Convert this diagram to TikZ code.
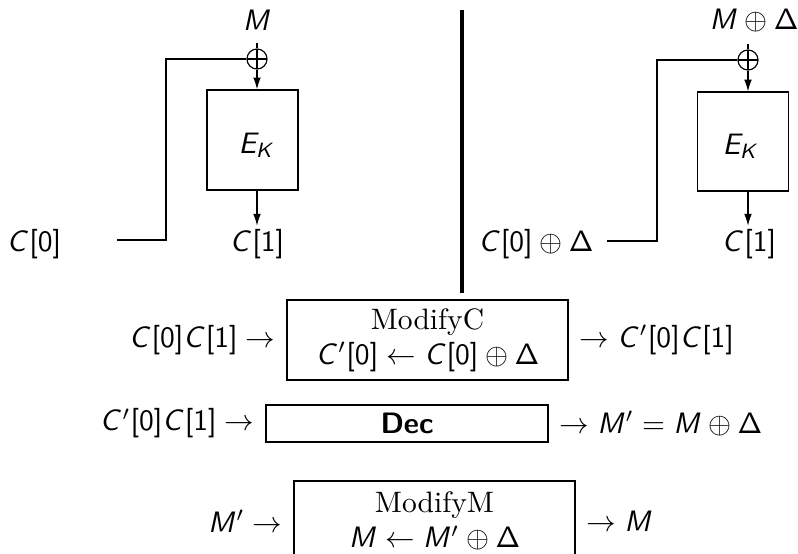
\documentclass[tikz,border=0pt]{standalone}
\usetikzlibrary{arrows.meta}
\DeclareSymbolFont{sfletters}{OT1}{cmss}{m}{sl}
\DeclareSymbolFont{sfop}{OT1}{cmss}{m}{n}
\DeclareMathSymbol{C}{\mathalpha}{sfletters}{`C}
\DeclareMathSymbol{M}{\mathalpha}{sfletters}{`M}
\DeclareMathSymbol{E}{\mathalpha}{sfletters}{`E}
\DeclareMathSymbol{K}{\mathalpha}{sfletters}{`K}
\DeclareMathSymbol{0}{\mathalpha}{sfop}{`0}
\DeclareMathSymbol{1}{\mathalpha}{sfop}{`1}
\DeclareMathSymbol{[}{\mathopen}{sfop}{`[}
\DeclareMathSymbol{]}{\mathclose}{sfop}{`]}
\DeclareMathSymbol{=}{\mathrel}{sfop}{`=}
\DeclareMathSymbol{\sDelta}{\mathalpha}{sfop}{"01}
\begin{document}
\begin{tikzpicture}[x=0.3386pt,y=-0.3386pt,
  thinline/.style={line width=0.4pt},
  arr/.style={thinline,-{Latex[length=4pt,width=2.6pt]}},
  ebox/.style={draw,thinline,minimum width=30.8pt,minimum height=33.9pt,inner sep=0pt},
  xorc/.style={draw,thinline,circle,minimum size=6.8pt,inner sep=0pt,
    path picture={\draw[thinline] (path picture bounding box.north) -- (path picture bounding box.south)
      (path picture bounding box.west) -- (path picture bounding box.east);}},
  topl/.style={inner sep=4pt},
  botl/.style={inner sep=1pt},
  bigbox/.style={draw,line width=0.8pt,minimum width=95.1pt,align=center,inner sep=0pt},
]
\useasboundingbox (0,0) rectangle (798,554);

% divider
\coordinate (d1) at (462,10);
\coordinate (d2) at (462,293);
\draw[line width=1.2pt] (d1) -- (d2);

% left diagram
\node[topl] (M1) at (257,20) {$M$};
\node[xorc] (x1) at (257,59) {};
\node[ebox] (E1) at (252.5,140) {};
\node at (257,145) {$E_K$};
\node[botl] (C1) at (257,244) {$C[1]$};
\node (C0) at (34,244) {$C[0]$};
\coordinate (s1) at (117,240);
\draw[thinline] (M1.south) -- (x1);
\draw[arr] (x1) -- (x1 |- E1.north);
\draw[arr] (x1 |- E1.south) -- (C1);
\draw[thinline] (s1) -- ++(49,0) |- (x1);

% right diagram
\node[topl] (M2) at (754,20) {$M\oplus\sDelta$};
\node[xorc] (x2) at (748,60) {};
\node[ebox,minimum height=33.5pt] (E2) at (743,141.5) {};
\node at (741,146) {$E_K$};
\node[botl] (C2) at (749,244) {$C[1]$};
\node (C0d) at (536,244) {$C[0]\oplus\sDelta$};
\coordinate (s2) at (607,241);
\draw[thinline] (M2.south -| x2) -- (x2);
\draw[arr] (x2) -- (x2 |- E2.north);
\draw[arr] (x2 |- E2.south) -- (x2 |- C2.north);
\draw[thinline] (s2) -- ++(50,0) |- (x2);

% ModifyC
\node[bigbox,minimum height=27.1pt] (mc) at (427.5,340) {ModifyC\\$C'[0]\leftarrow C[0]\oplus\sDelta$};
\node[anchor=east] (mcl) at (mc.west) {$C[0]C[1]\rightarrow$};
\node[anchor=west] (mcr) at (mc.east) {$\rightarrow C'[0]C[1]$};

% Dec
\node[bigbox,minimum width=95.5pt,minimum height=12.5pt] (dec) at (407,423.5) {\textsf{\bfseries Dec}};
\node[anchor=east] (decl) at (dec.west) {$C'[0]C[1]\rightarrow$};
\node[anchor=west] (decr) at (dec.east) {$\rightarrow M'=M\oplus\sDelta$};

% ModifyM
\node[bigbox,minimum height=27.1pt] (mm) at (434.5,521) {ModifyM\\$M\leftarrow M'\oplus\sDelta$};
\node[anchor=east] (mml) at (mm.west) {$M'\rightarrow$};
\node[anchor=west] (mmr) at (mm.east) {$\rightarrow M$};
\end{tikzpicture}
\end{document}
